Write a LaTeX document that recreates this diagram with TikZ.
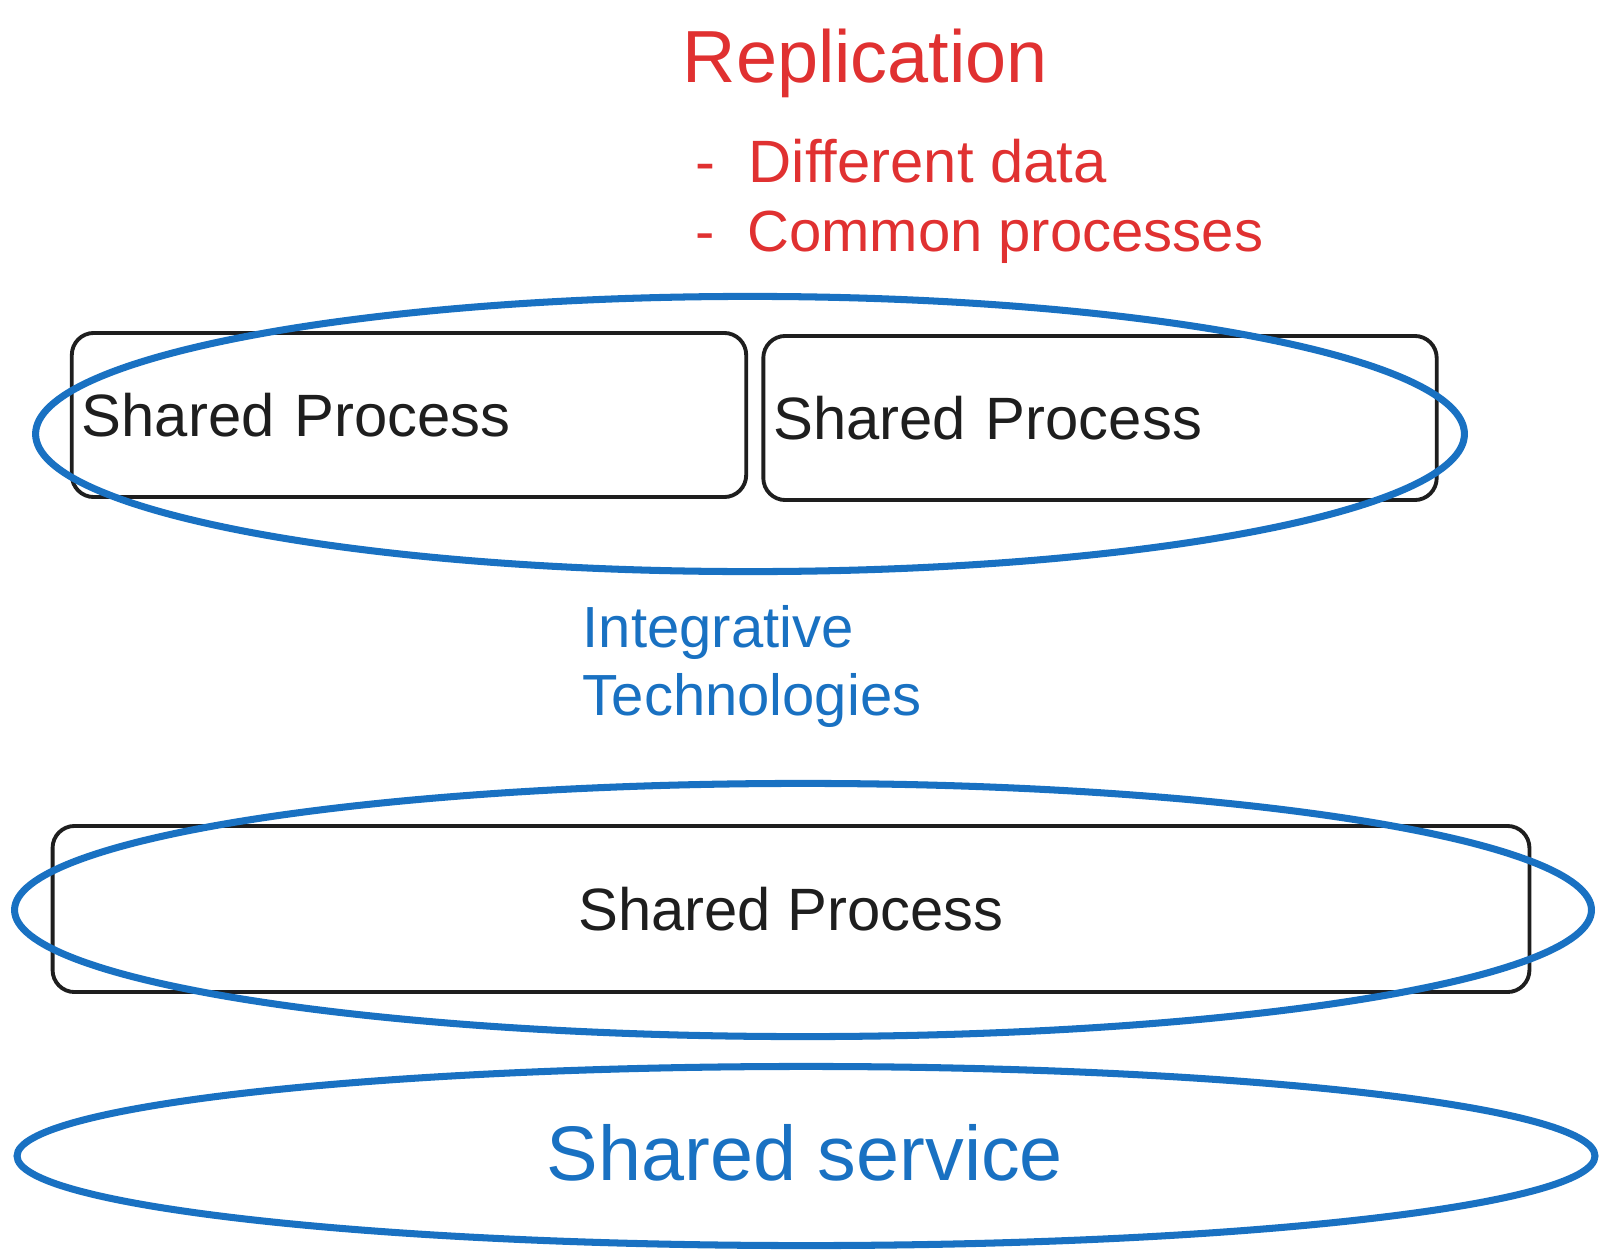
\documentclass[tikz,border=0pt]{standalone}
\usepackage{fontspec}
\setmainfont{Liberation Sans}
\usetikzlibrary{shapes.geometric}

\definecolor{sketchred}{HTML}{E03131}
\definecolor{sketchblue}{HTML}{1971C2}
\definecolor{sketchink}{HTML}{1E1E1E}

\tikzset{
    procbox/.style={draw=sketchink, line width=1.1pt, rounded corners=0.22cm,
        inner xsep=0.1cm, inner ysep=0pt, text=sketchink,
        font=\fontsize{17}{20}\selectfont},
    ring/.style={draw=sketchblue, line width=2pt, ellipse, inner sep=0pt},
    redtext/.style={text=sketchred, inner sep=0pt},
    bluetext/.style={text=sketchblue, inner sep=0pt}
}

\begin{document}
\begin{tikzpicture}[x=0.01cm, y=-0.01cm]
    \useasboundingbox (0,0) rectangle (1607,1258);

    % heading and notes
    \node[redtext, anchor=base west, font=\fontsize{21}{24}\selectfont] (repl) at (682,83) {Replication};
    \node[redtext, anchor=base west, font=\fontsize{17}{20}\selectfont] (diffdata) at (695,183) {-\ \ Different data};
    \node[redtext, anchor=base west, font=\fontsize{16.5}{20}\selectfont] (commonproc) at (695,252) {-\ \ Common processes};

    % upper pair of processes
    \node[procbox, minimum width=6.74cm, minimum height=1.64cm, text width=6.54cm, align=left] (procA) at (409,415) {Shared Process};
    \node[procbox, minimum width=6.73cm, minimum height=1.64cm, text width=6.53cm, align=left] (procB) at (1100,418) {Shared Process};
    \node[ring, minimum width=14.28cm, minimum height=2.75cm] (ringA) at (750,434) {};

    % middle label
    \node[bluetext, anchor=base west, font=\fontsize{16.5}{19}\selectfont] (integ) at (582,647) {Integrative};
    \node[bluetext, anchor=base west, font=\fontsize{16.5}{19}\selectfont] (techn) at (582,715) {Technologies};

    % lower process
    \node[procbox, minimum width=14.76cm, minimum height=1.66cm] (procC) at (791,909) {Shared Process};
    \node[ring, minimum width=15.76cm, minimum height=2.53cm] (ringC) at (803,910) {};

    % shared service
    \node[ring, minimum width=15.77cm, minimum height=1.79cm] (ringS) at (806,1156) {};
    \node[bluetext, anchor=base, font=\fontsize{22}{26}\selectfont] (service) at (805,1180) {Shared service};
\end{tikzpicture}
\end{document}
